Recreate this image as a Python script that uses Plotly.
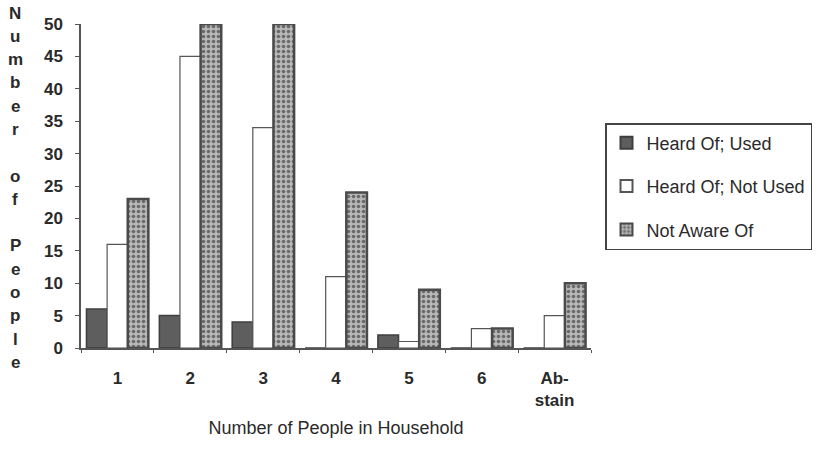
import plotly.graph_objects as go

# Household size categories and survey counts
categories = ["1", "2", "3", "4", "5", "6", "Ab-<br>stain"]
heard_used = [6, 5, 4, 0, 2, 0, 0]
heard_not_used = [16, 45, 34, 11, 1, 3, 5]
not_aware = [23, 50, 50, 24, 9, 3, 10]

series_names = ["Heard Of; Used", "Heard Of; Not Used", "Not Aware Of"]
y_ticks = list(range(0, 51, 5))
y_title_letters = list("Number") + [""] + list("of") + [""] + list("People")
x_title = "Number of People in Household"

W, H = 822, 451
L, R, T, B = 81, 231, 24, 103
plot_h = H - T - B

fig = go.Figure()

fig.add_trace(go.Bar(
    name=series_names[0], x=categories, y=heard_used, legendgroup="a",
    marker=dict(color="#5e5e5e", line=dict(color="#3e3e3e", width=1.5)),
))
fig.add_trace(go.Bar(
    name=series_names[1], x=categories, y=heard_not_used, legendgroup="b",
    marker=dict(color="white", line=dict(color="#555555", width=1.2)),
))
fig.add_trace(go.Bar(
    name=series_names[2], x=categories, y=not_aware, legendgroup="c",
    marker=dict(
        color="#b3b3b3",
        line=dict(color="#4a4a4a", width=2.5),
        pattern=dict(shape=".", fgcolor="#6a6a6a", bgcolor="#b8b8b8",
                     size=5, solidity=0.4, fillmode="replace"),
    ),
))

# Vertical, letter-stacked y-axis title
line_step = 23.3
for i, ch in enumerate(y_title_letters):
    if not ch:
        continue
    ypix = 13 + line_step * i
    fig.add_annotation(
        text=ch, xref="paper", yref="paper",
        x=(15 - L) / (W - L - R), y=(H - B - ypix) / plot_h,
        xanchor="center", yanchor="middle", showarrow=False,
        font=dict(family="Liberation Sans", size=17, color="#2a2a2a", weight="bold"),
    )

fig.update_layout(
    width=W, height=H,
    margin=dict(l=L, r=R, t=T, b=B, autoexpand=False),
    paper_bgcolor="white", plot_bgcolor="white",
    barmode="group", bargap=0.15, bargroupgap=0,
    font=dict(family="Liberation Sans", color="#2a2a2a"),
    showlegend=True,
    legend=dict(
        x=(605 - L) / (W - L - R), y=(H - B - 123) / plot_h,
        xanchor="left", yanchor="top",
        bgcolor="white", bordercolor="#444444", borderwidth=1.5,
        font=dict(size=18, color="#2a2a2a"),
        tracegroupgap=17, itemsizing="constant",
    ),
    xaxis=dict(
        type="category", tickson="boundaries", ticks="outside", ticklen=3,
        tickcolor="#555555", showline=True, linecolor="#555555", linewidth=1.5,
        showgrid=False, ticklabelstandoff=14,
        tickfont=dict(size=17, color="#2a2a2a", weight="bold"),
        title=dict(text=x_title, font=dict(size=18, color="#2a2a2a"), standoff=12),
    ),
    yaxis=dict(
        range=[0, 50], tickvals=y_ticks, ticks="outside", ticklen=4,
        tickcolor="#555555", showline=True, linecolor="#555555", linewidth=1.5,
        showgrid=False, zeroline=False, ticklabelstandoff=9,
        tickfont=dict(size=17, color="#2a2a2a", weight="bold"),
    ),
)

fig.write_html("out.html")
